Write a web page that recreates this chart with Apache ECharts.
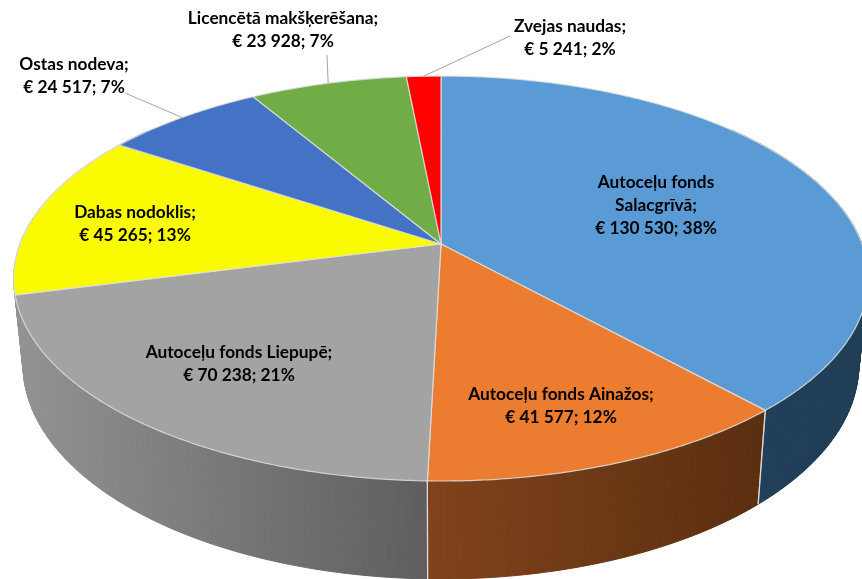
<!DOCTYPE html>
<html><head><meta charset="utf-8">
<style>html,body{margin:0;padding:0;background:#fff}#c{width:862px;height:579px}</style>
<script src="https://cdn.jsdelivr.net/npm/echarts@6/dist/echarts.min.js"></script>
</head><body><div id="c"></div>
<script>
const categories = ['Autoceļu fonds\nSalacgrīvā','Autoceļu fonds Ainažos','Autoceļu fonds Liepupē','Dabas nodoklis','Ostas nodeva','Licencētā makšķerēšana','Zvejas naudas'];
const values = [130530,41577,70238,45265,24517,23928,5241];

const colors = ['#5b9bd5','#ec7c30','#a3a3a3','#fbfb00','#4472c4','#70ad47','#ff0000'];
const wallLeft = ['#213f58','#80431b','#929292','#929292','#2c4a80','#4a7030','#a00000'];
const wallRight = ['#203d56','#5a2e10','#5e5e5e','#929292','#2c4a80','#4a7030','#a00000'];
const labelAt = [[656,205],[561,406],[239,364],[135,224],[74,76],[283,30],[570,38]];
const leaderFrom = [null,null,null,null,[125,93],[327,55],[510,36]];

// projected circle of the pie's top face
const O = {x:441,y:244,a:421,b:196.6,k:0.1705};
const total = values.reduce((s,v)=>s+v,0);
function rimPoint(deg){
  const t=deg*Math.PI/180, X=Math.sin(t), Z=Math.cos(t), d=1+O.k*Z;
  return [O.x+O.a*X/d, O.y-O.b*Z/d];
}
function lowPoint(p){ return [438+0.978*(p[0]-438), 579+1.057*(p[1]-481)]; }
function money(v){ return '€ '+String(v).replace(/\B(?=(\d{3})+$)/g,' '); }

function renderItem(params, api){
  const i=params.dataIndex, v=api.value(1);
  let before=0; for(let j=0;j<i;j++) before+=values[j];
  const a0=before/total*360, a1=(before+v)/total*360, mid=(a0+a1)/2;
  const kids=[];
  // wall
  const w0=Math.max(a0,50), w1=Math.min(a1,310);
  if(w1>w0){
    const fill={type:'linear',global:true,x:i===2?20:(i===1?428:758),y:0,x2:i===2?428:(i===1?765:862),y2:0,
      colorStops:[{offset:0,color:wallLeft[i]},{offset:1,color:wallRight[i]}]};
    for(let d=w0;d<w1;d+=1){
      const e=Math.min(d+1,w1), p=rimPoint(d), q=rimPoint(e);
      kids.push({type:'polygon',z2:1,silent:true,
        shape:{points:[p,q,lowPoint(q),lowPoint(p)]},
        style:{fill:fill,stroke:fill,lineWidth:1}});
    }
    [a0,a1].forEach(d=>{ if(d>=60&&d<=250){ const p=rimPoint(d);
      kids.push({type:'line',z2:2,silent:true,shape:{x1:p[0],y1:p[1],x2:lowPoint(p)[0],y2:lowPoint(p)[1]},
        style:{stroke:'rgba(225,225,225,0.8)',lineWidth:1.2}}); }});
  }
  // top face
  const pts=[[O.x,O.y]];
  for(let d=a0;d<a1;d+=0.5) pts.push(rimPoint(d));
  pts.push(rimPoint(a1));
  kids.push({type:'polygon',z2:3,shape:{points:pts},
    style:{fill:colors[i],stroke:'rgba(222,222,222,0.85)',lineWidth:1.2}});
  // leader
  if(leaderFrom[i]){
    const r=rimPoint(mid);
    kids.push({type:'line',z2:4,silent:true,shape:{x1:leaderFrom[i][0],y1:leaderFrom[i][1],x2:r[0],y2:r[1]},
      style:{stroke:'#a6a6a6',lineWidth:1}});
  }
  // label
  const pct=Math.round(v/total*100);
  kids.push({type:'text',z2:5,silent:true,x:labelAt[i][0],y:labelAt[i][1],
    style:{text:categories[i]+';\n'+money(v)+'; '+pct+'%',
      font:'bold 17.3px Lato',fill:'#000',align:'center',verticalAlign:'middle',lineHeight:23}});
  return {type:'group',children:kids};
}

const chart=echarts.init(document.getElementById('c'),null,{renderer:'canvas'});
chart.setOption({
  animation:false,
  backgroundColor:'#fff',
  series:[{type:'custom',coordinateSystem:'none',renderItem:renderItem,clip:false,
    data:categories.map((c,i)=>({name:c,value:[i,values[i]]}))}]
});
</script></body></html>
